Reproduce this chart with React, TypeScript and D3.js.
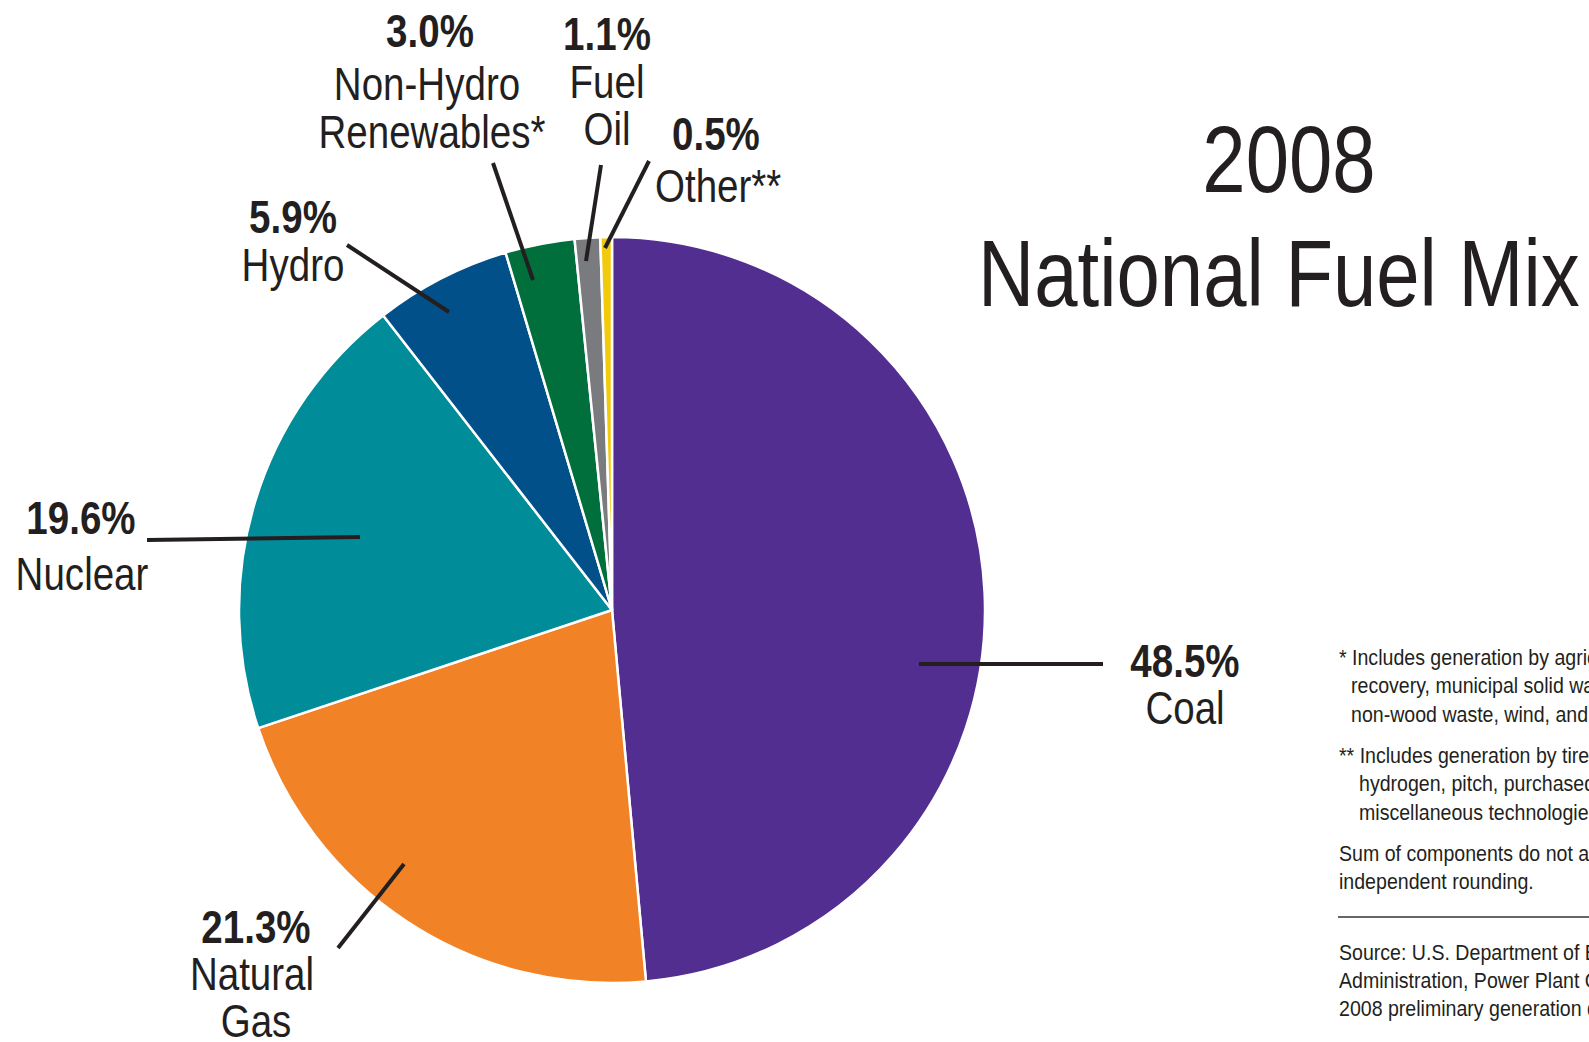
import React from "react";
import * as d3 from "d3";

const fuels = ["Coal", "Natural Gas", "Nuclear", "Hydro", "Non-Hydro Renewables*", "Fuel Oil", "Other**"];
const shares = [48.5, 21.3, 19.6, 5.9, 3.0, 1.1, 0.5];
const pctLabels = ["48.5%", "21.3%", "19.6%", "5.9%", "3.0%", "1.1%", "0.5%"];
const nameLines = [["Coal"], ["Natural", "Gas"], ["Nuclear"], ["Hydro"], ["Non-Hydro", "Renewables*"], ["Fuel", "Oil"], ["Other**"]];
const colors = ["#512E8F", "#F28226", "#008C99", "#02508A", "#006F3B", "#7A7B7E", "#F2CA0C"];

const titleLines = ["2008", "National Fuel Mix"];
const footnotes = [
  ["* Includes generation by agricultural byproducts, landfill gas", "recovery, municipal solid waste, other biomass, solar, thermal,", "non-wood waste, wind, and wood."],
  ["** Includes generation by tires, batteries, chemicals,", "hydrogen, pitch, purchased steam, sulfur, and", "miscellaneous technologies."],
  ["Sum of components do not add to 100% due to", "independent rounding."],
];
const sourceLines = [
  "Source: U.S. Department of Energy, Energy Information",
  "Administration, Power Plant Operations Report (EIA-923);",
  "2008 preliminary generation data.",
];

// label layout: offsets from pie centre (px)
const layout = [
  { line: [[307, 54], [491, 54]], pct: [573, 67], anchor: "middle", names: [[573, 114]] },
  { line: [[-274, 338], [-208, 254]], pct: [-356, 333], anchor: "middle", names: [[-360, 380], [-356, 427]] },
  { line: [[-465, -70], [-252, -73]], pct: [-531, -76], anchor: "middle", names: [[-530, -20]] },
  { line: [[-265, -365], [-163, -298]], pct: [-319, -377], anchor: "middle", names: [[-319, -329]] },
  { line: [[-119, -447], [-79, -330]], pct: [-182, -563], anchor: "middle", names: [[-185, -510], [-180, -462]] },
  { line: [[-11, -445], [-26, -349]], pct: [-5, -560], anchor: "middle", names: [[-5, -512], [-5, -465]] },
  { line: [[37, -449], [-7, -362]], pct: [60, -460], anchor: "start", names: [[43, -408]] },
];

const FONT = "'Liberation Sans', Arial, sans-serif";
const INK = "#231F20";
const SX = 0.82;
const SX_NOTE = 0.89;

function T(props: { x: number; y: number; size: number; anchor?: string; bold?: boolean; sx?: number; children: any }) {
  const { x, y, size, anchor = "start", bold = false, sx = SX, children } = props;
  return (
    <text
      transform={`translate(${x},${y}) scale(${sx},1)`}
      textAnchor={anchor}
      fontSize={size}
      fontWeight={bold ? "bold" : "normal"}
      fill={INK}
    >
      {children}
    </text>
  );
}

export default function App() {
  const W = 1589, H = 1042;
  const cx = 612, cy = 610, r = 373;
  const pie = d3.pie<number>().sort(null).value((d) => d)(shares);
  const arc = d3.arc<d3.PieArcDatum<number>>().innerRadius(0).outerRadius(r);

  return (
    <svg
      width={W}
      height={H}
      viewBox={`0 0 ${W} ${H}`}
      style={{ position: "absolute", left: 0, top: 0, background: "#fff", overflow: "hidden" }}
      fontFamily={FONT}
    >
      <rect x={0} y={0} width={W} height={H} fill="#fff" />
      <g transform={`translate(${cx},${cy})`}>
        {pie.map((p, i) => (
          <path key={fuels[i]} d={arc(p) || ""} fill={colors[i]} stroke="#fff" strokeWidth={2.5} strokeLinejoin="round" />
        ))}
        {layout.map((l, i) => (
          <g key={"lab" + i}>
            <line x1={l.line[0][0]} y1={l.line[0][1]} x2={l.line[1][0]} y2={l.line[1][1]} stroke={INK} strokeWidth={4} />
            <T x={l.pct[0]} y={l.pct[1]} anchor={l.anchor} size={47} bold>
              {pctLabels[i]}
            </T>
            {nameLines[i].map((t, j) => (
              <T key={j} x={l.names[j][0]} y={l.names[j][1]} anchor={l.anchor} size={47}>
                {t}
              </T>
            ))}
          </g>
        ))}
      </g>
      <T x={1289} y={192} anchor="middle" size={95}>
        {titleLines[0]}
      </T>
      <T x={978} y={306} size={95}>
        {titleLines[1]}
      </T>
      <T x={1339} y={665} size={22} sx={SX_NOTE}>{footnotes[0][0]}</T>
      <T x={1351} y={693} size={22} sx={SX_NOTE}>{footnotes[0][1]}</T>
      <T x={1351} y={722} size={22} sx={SX_NOTE}>{footnotes[0][2]}</T>
      <T x={1339} y={763} size={22} sx={SX_NOTE}>{footnotes[1][0]}</T>
      <T x={1359} y={791} size={22} sx={SX_NOTE}>{footnotes[1][1]}</T>
      <T x={1359} y={820} size={22} sx={SX_NOTE}>{footnotes[1][2]}</T>
      <T x={1339} y={861} size={22} sx={SX_NOTE}>{footnotes[2][0]}</T>
      <T x={1339} y={889} size={22} sx={SX_NOTE}>{footnotes[2][1]}</T>
      <line x1={1338} y1={917} x2={1700} y2={917} stroke="#333" strokeWidth={1.5} />
      {sourceLines.map((s, i) => (
        <T key={i} x={1339} y={960 + i * 28} size={22} sx={SX_NOTE}>{s}</T>
      ))}
    </svg>
  );
}
